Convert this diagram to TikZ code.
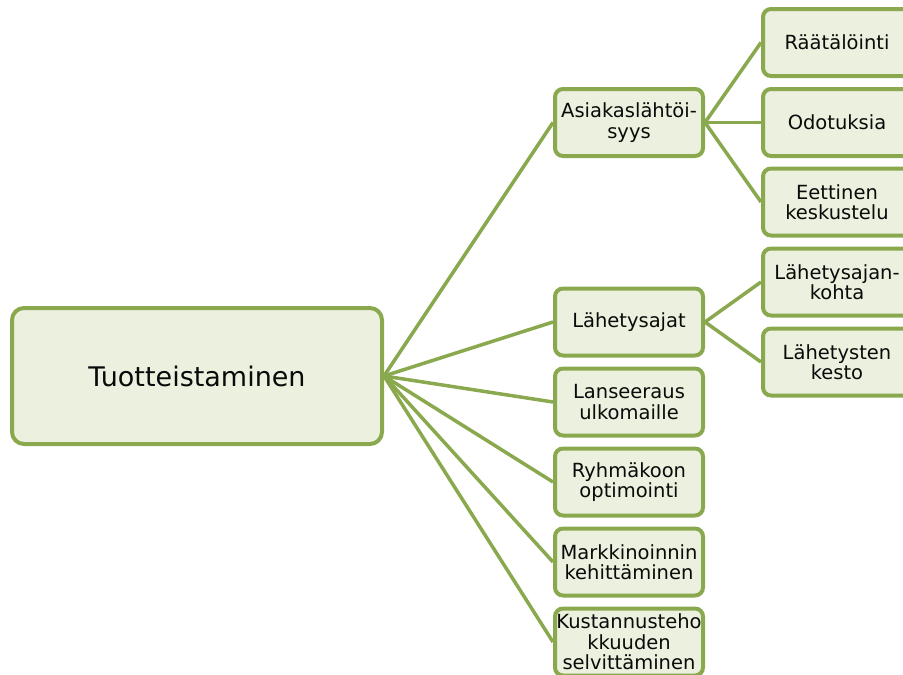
\documentclass[tikz,border=0pt]{standalone}
\usepackage{fontspec}
\setmainfont{DejaVu Sans}
\usepackage{xcolor}
\definecolor{leafgreen}{RGB}{138, 168, 78}
\definecolor{palegreen}{RGB}{235, 241, 222}
\definecolor{textblack}{RGB}{10, 10, 10}

\tikzset{
  box/.style={draw=leafgreen, fill=palegreen, line width=4pt, rounded corners=8pt,
    minimum width=148pt, minimum height=67pt, align=center, text=textblack,
    inner sep=1pt, font=\fontsize{19.5}{20.5}\selectfont},
  rootbox/.style={box, minimum width=370pt, minimum height=136pt, rounded corners=12pt,
    font=\fontsize{27}{28}\selectfont},
  link/.style={draw=leafgreen, line width=3.5pt}
}

\begin{document}
\begin{tikzpicture}[x=1pt, y=-1pt]
        \useasboundingbox (0,0) rectangle (903,675);

        % root
        \node[rootbox] (root) at (197,376) {Tuotteistaminen};

        % first level
        \node[box] (asiakas) at (629,122.5) {Asiakaslähtöi-\\syys};
        \node[box] (ajat) at (629,322) {Lähetysajat};
        \node[box] (lanseeraus) at (629,402) {Lanseeraus\\ulkomaille};
        \node[box] (ryhma) at (629,482) {Ryhmäkoon\\optimointi};
        \node[box] (markkinointi) at (629,562) {Markkinoinnin\\kehittäminen};
        \node[box] (kustannus) at (629,642) {Kustannusteho\\kkuuden\\selvittäminen};

        % second level
        \node[box] (raatalointi) at (837,42.5) {Räätälöinti};
        \node[box] (odotuksia) at (837,122.5) {Odotuksia};
        \node[box] (eettinen) at (837,202) {Eettinen\\keskustelu};
        \node[box] (ajankohta) at (837,282) {Lähetysajan-\\kohta};
        \node[box] (kesto) at (837,362) {Lähetysten\\kesto};

        \foreach \n in {asiakas,ajat,lanseeraus,ryhma,markkinointi,kustannus}
          \draw[link] (root.east) -- (\n.west);
        \foreach \n in {raatalointi,odotuksia,eettinen}
          \draw[link] (asiakas.east) -- (\n.west);
        \foreach \n in {ajankohta,kesto}
          \draw[link] (ajat.east) -- (\n.west);
    \end{tikzpicture}
\end{document}
